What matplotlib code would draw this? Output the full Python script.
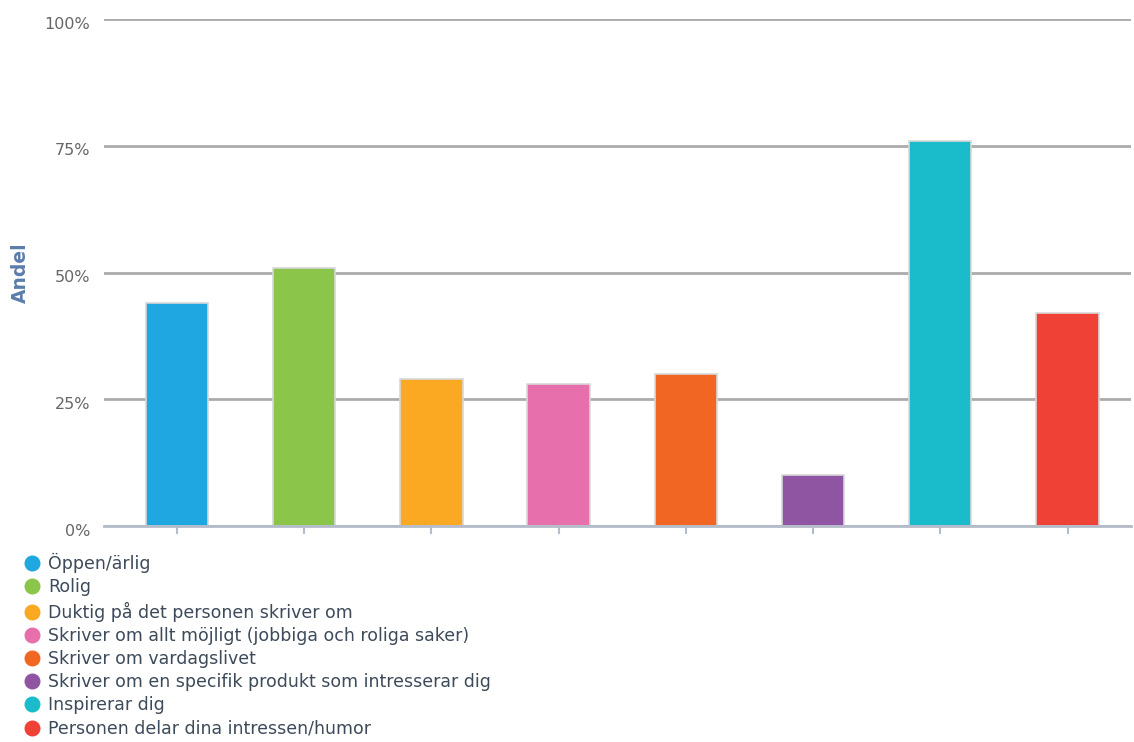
import matplotlib
matplotlib.use("Agg")
import matplotlib.pyplot as plt
import matplotlib.transforms as mtransforms
from matplotlib.lines import Line2D
from matplotlib.ticker import FuncFormatter

categories = [
    "Öppen/ärlig",
    "Rolig",
    "Duktig på det personen skriver om",
    "Skriver om allt möjligt (jobbiga och roliga saker)",
    "Skriver om vardagslivet",
    "Skriver om en specifik produkt som intresserar dig",
    "Inspirerar dig",
    "Personen delar dina intressen/humor",
]
values = [44, 51, 29, 28, 30, 10, 76, 42]
colors = ["#1EA7E0", "#8BC549", "#FBA822", "#E76FAB", "#F26624",
          "#8F55A2", "#1ABCCC", "#EF4136"]
yticks = [0, 25, 50, 75, 100]

plt.rcParams["font.family"] = ["DejaVu Sans"]

fig = plt.figure(figsize=(11.34, 7.42), dpi=100)
ax = fig.add_axes([0.0917, 0.291, 0.9058, 0.683])

x = list(range(len(values)))
ax.bar(x, values, width=0.49, color=colors, edgecolor="#D8D8D8",
       linewidth=1.2, zorder=3)

ax.set_xlim(-0.573, len(values) - 0.5)
ax.set_ylim(0, 100)
ax.set_yticks(yticks)
ax.yaxis.set_major_formatter(FuncFormatter(lambda v, p: f"{int(v)}%"))
ax.grid(axis="y", color="#ABABAB", linewidth=2, zorder=0)
ax.set_axisbelow(True)

for s in ["top", "right", "left"]:
    ax.spines[s].set_visible(False)
ax.spines["bottom"].set_color("#B4BCCA")
ax.spines["bottom"].set_linewidth(2)
ax.spines["bottom"].set_zorder(4)

ax.set_xticks(x)
ax.set_xticklabels([])
ax.tick_params(axis="x", length=6, width=1.5, color="#B4BCCA", direction="out")
ax.tick_params(axis="y", length=0, pad=10, labelsize=11.5, labelcolor="#666666")

# nudge the percentage labels slightly below their gridlines
shift = mtransforms.ScaledTranslation(0, -2.5 / 72, fig.dpi_scale_trans)
for lbl in ax.get_yticklabels():
    lbl.set_transform(lbl.get_transform() + shift)

ax.set_ylabel("Andel", fontsize=13.5, fontweight="bold", color="#5B7DAA")
ax.yaxis.set_label_coords(-0.072, 0.5)

handles = [Line2D([0], [0], marker="o", linestyle="none", markersize=10.5,
                  markerfacecolor=c, markeredgecolor=c) for c in colors]
fig.legend(handles, categories, loc="upper left", bbox_to_anchor=(0.014, 0.264),
           frameon=False, fontsize=12.5, labelcolor="#3D4A5A",
           handletextpad=0.45, labelspacing=0.3, borderaxespad=0,
           handlelength=1.0)

fig.savefig("out.png", dpi=100)
